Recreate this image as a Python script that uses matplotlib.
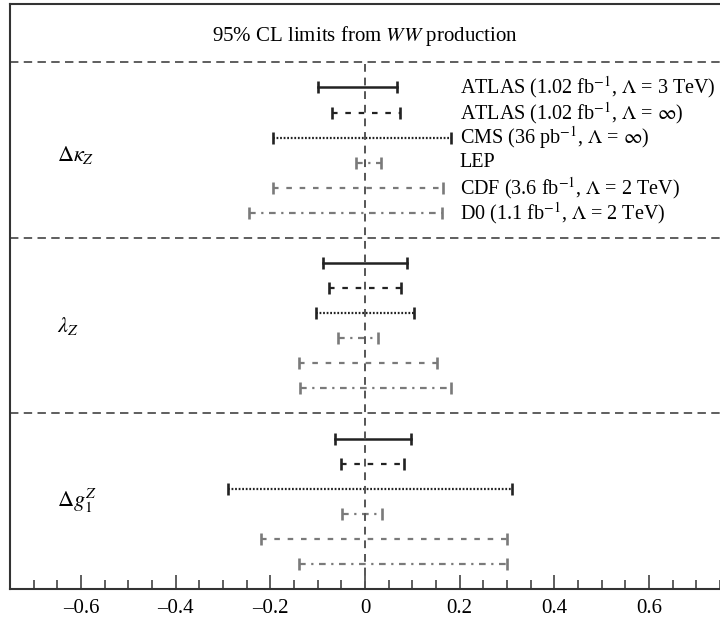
import matplotlib
matplotlib.use("Agg")
import matplotlib.pyplot as plt
from matplotlib.ticker import MultipleLocator, FuncFormatter

plt.rcParams["font.family"] = ["Liberation Serif", "DejaVu Serif"]
plt.rcParams["mathtext.fontset"] = "stix"

experiments = ["ATLAS (1.02 fb$^{-1}$, $\\Lambda$ = 3 TeV)",
               "ATLAS (1.02 fb$^{-1}$, $\\Lambda$ = $\\infty$)",
               "CMS (36 pb$^{-1}$, $\\Lambda$ = $\\infty$)",
               "LEP",
               "CDF (3.6 fb$^{-1}$, $\\Lambda$ = 2 TeV)",
               "D0 (1.1 fb$^{-1}$, $\\Lambda$ = 2 TeV)"]
couplings = [r"$\Delta\kappa_Z$", r"$\lambda_Z$", r"$\Delta g_1^Z$"]

# 95% CL intervals, one list per coupling, same order as experiments
kappa_lo = [-0.100, -0.069, -0.194, -0.019, -0.194, -0.246]
kappa_hi = [0.068, 0.074, 0.181, 0.033, 0.165, 0.162]
lambda_lo = [-0.089, -0.077, -0.104, -0.058, -0.139, -0.137]
lambda_hi = [0.088, 0.077, 0.104, 0.028, 0.153, 0.181]
g1_lo = [-0.063, -0.051, -0.290, -0.049, -0.220, -0.139]
g1_hi = [0.097, 0.083, 0.311, 0.035, 0.299, 0.301]

lows = [kappa_lo, lambda_lo, g1_lo]
highs = [kappa_hi, lambda_hi, g1_hi]

black = "#222222"
gray = "#7a7a7a"
styles = [(black, "-"),
          (black, (0, (2.5, 3.5))),
          (black, (0, (0.8, 0.8))),
          (gray, (0, (3, 2.5, 1, 2.5))),
          (gray, (0, (2.5, 3.5))),
          (gray, (0, (3, 2.5, 1, 2.5)))]
label_shift = [-0.2, 0.0, 0.0]

fig = plt.figure(figsize=(7.2, 6.18), dpi=100)
ax = fig.add_axes([10 / 720, 29 / 618, 710 / 720, 585 / 618])

sec_h = 7
ntop = 3 * sec_h
ax.set_xlim(-0.75, 0.75)
ax.set_ylim(0, ntop + 2.33)

for s in range(3):
    top = ntop - s * sec_h
    for i in range(6):
        y = top - 1 - i
        col, ls = styles[i]
        ax.plot([lows[s][i], highs[s][i]], [y, y], color=col, linestyle=ls,
                lw=1.8 if i == 0 else 1.6)
        ax.plot([lows[s][i], highs[s][i]], [y, y], color=col, linestyle="none",
                marker="|", ms=8, mew=1.9)
    ax.text(-0.65, top - sec_h / 2 + label_shift[s], couplings[s], fontsize=16,
            va="center", ha="left")
    ax.axhline(top, color="#333333", lw=1.1, linestyle=(0, (5.5, 3.5)))

for i, name in enumerate(experiments):
    ax.text(0.200, ntop - 1 - i, name, fontsize=14.5, va="center", ha="left")

ax.plot([0, 0], [0, ntop], color="#555555", lw=1.4, linestyle=(0, (4, 3)))

ax.text(0.0, 22.06, "95% CL limits from $WW$ production", fontsize=15,
        ha="center", va="center")

ax.spines["right"].set_visible(False)
for sp in ["left", "top", "bottom"]:
    ax.spines[sp].set_color("#333333")
    ax.spines[sp].set_linewidth(1.5)

ax.set_yticks([])
ax.xaxis.set_major_locator(MultipleLocator(0.2))
ax.xaxis.set_minor_locator(MultipleLocator(0.05))
ax.xaxis.set_major_formatter(FuncFormatter(
    lambda v, p: "0" if abs(v) < 1e-9 else ("%.1f" % v).replace("-", "\u2013")))
ax.tick_params(axis="x", which="major", direction="in", length=10, width=1.1,
               labelsize=15, pad=7, color="#333333")
ax.tick_params(axis="x", which="minor", direction="in", length=6.5, width=1.1,
               color="#333333")

fig.savefig("out.png", dpi=100)
